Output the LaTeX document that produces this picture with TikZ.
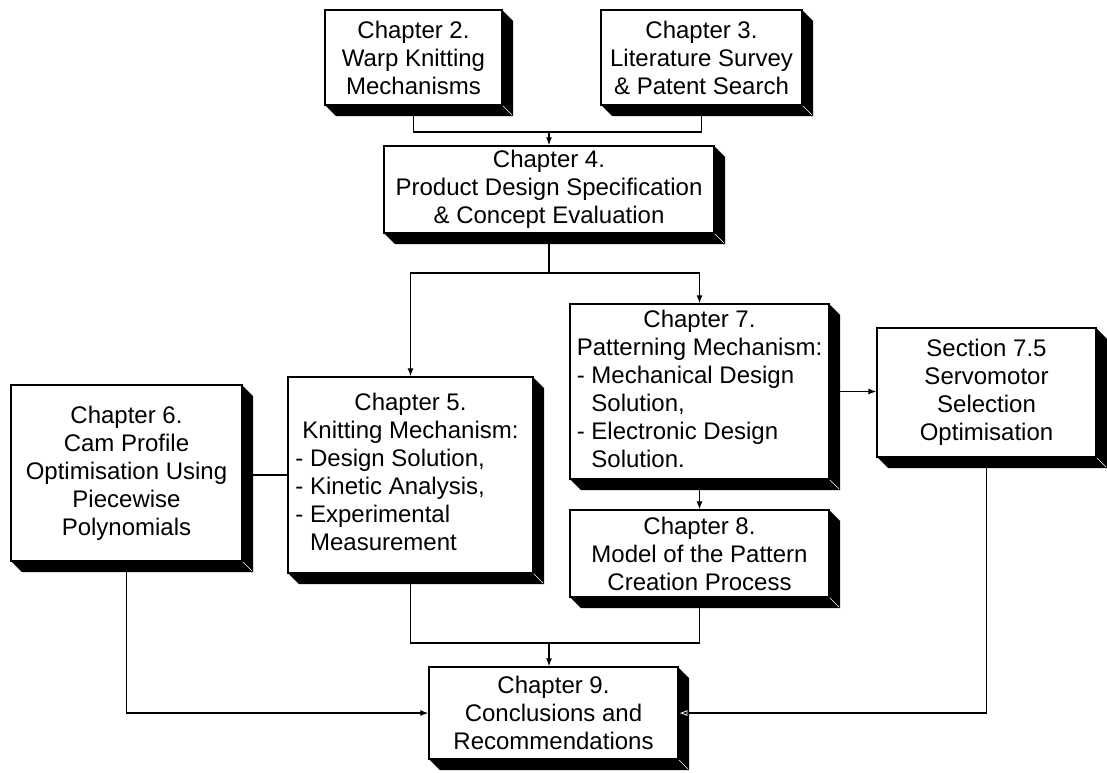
\documentclass[tikz,border=0pt]{standalone}
\usepackage{fontspec}
\setmainfont{Liberation Sans}
\usetikzlibrary{arrows.meta}
\tikzset{
  chap/.style={draw=black, line width=1.4pt, fill=white, inner sep=0pt, align=center,
    font=\fontsize{24}{28}\selectfont},
  shade3d/.style={fill=black},
  conn/.style={line width=1.2pt},
  arr/.style={conn, -{Latex[length=8pt,width=6pt]}},
  arrshadow/.style={conn, -{Latex[length=8pt,width=6pt,open,color=white,line width=0.8pt]}}
}
% \chapbox{name}{x1}{y1}{x2}{y2}{text}
\newcommand\chapbox[6]{%
  \fill[shade3d] (#4,#3) -- (#4+11,#3+11) -- (#4+11,#5+11) -- (#2+11,#5+11) -- (#2,#5) -- cycle;
  \draw[white, line width=0.6pt] (#4+1,#5+1) -- (#4+10,#5+10);
  \node[chap, minimum width={(#4-#2)*1pt}, minimum height={(#5-#3)*1pt}] (#1)
    at ({(#2+#4)/2},{(#3+#5)/2}) {#6};
}
\begin{document}
\begin{tikzpicture}[x=1pt,y=-1pt]
\useasboundingbox[fill=white] (0,0) rectangle (1107,772);

\chapbox{ch2}{325}{10}{502}{105}{Chapter 2.\\Warp Knitting\\Mechanisms}
\chapbox{ch3}{601}{10}{802}{105}{Chapter 3.\\Literature Survey\\\& Patent Search}
\chapbox{ch4}{384}{146}{714}{233}{Chapter 4.\\Product Design Specification\\\& Concept Evaluation}
\chapbox{ch6}{11}{385}{242}{561}{Chapter 6.\\Cam Profile\\Optimisation Using\\Piecewise\\Polynomials}
\chapbox{ch5}{288}{377}{533}{573}{\begin{tabular}{@{}l@{}}
\multicolumn{1}{@{}c@{}}{Chapter 5.}\\
Knitting Mechanism:\\
\hspace*{-7pt}- Design Solution,\\
\hspace*{-7pt}- Kinetic Analysis,\\
\hspace*{-7pt}- Experimental\\
\hspace*{-7pt}\phantom{- }Measurement
\end{tabular}}
\chapbox{ch7}{570}{304}{829}{479}{\begin{tabular}{@{}l@{}}
\multicolumn{1}{@{}c@{}}{Chapter 7.}\\
Patterning Mechanism:\\
- Mechanical Design\\
\phantom{- }Solution,\\
- Electronic Design\\
\phantom{- }Solution.
\end{tabular}}
\chapbox{sec}{877}{328}{1096}{457}{Section 7.5\\Servomotor\\Selection\\Optimisation}
\chapbox{ch8}{570}{510}{829}{597}{Chapter 8.\\Model of the Pattern\\Creation Process}
\chapbox{ch9}{429}{667}{678}{759}{Chapter 9.\\Conclusions and\\Recommendations}

% junction points
\coordinate (t1) at (549,132);
\coordinate (s1) at (549,273);
\coordinate (b1) at (549,643);

% top: chapters 2 and 3 into chapter 4
\draw[conn] (ch2.south) |- (t1) -| (ch3.south);
\draw[arr] (t1) -- (t1 |- ch4.north);
% chapter 4 into chapters 5 and 7
\draw[conn] (ch4.south -| s1) -- (s1);
\draw[arr] (s1) -| (ch5.north);
\draw[arr] (s1) -| (ch7.north);
% chapter 6 -- chapter 5
\draw[conn] (ch6.east |- ch5.west) -- (ch5.west);
% chapter 7 to section 7.5 and chapter 8
\draw[arr] (ch7.east) -- (ch7.east -| sec.west);
\draw[arr] (ch7.south) -- (ch8.north);
% chapters 5 and 8 into chapter 9
\draw[conn] (ch5.south) |- (b1) -| (ch8.south);
\draw[arr] (b1) -- (b1 |- ch9.north);
% chapter 6 and section 7.5 into chapter 9
\draw[arr] (ch6.south) |- (ch9.west);
\draw[arrshadow] (sec.south) |- ([xshift=0.7pt]ch9.east);
\end{tikzpicture}
\end{document}
